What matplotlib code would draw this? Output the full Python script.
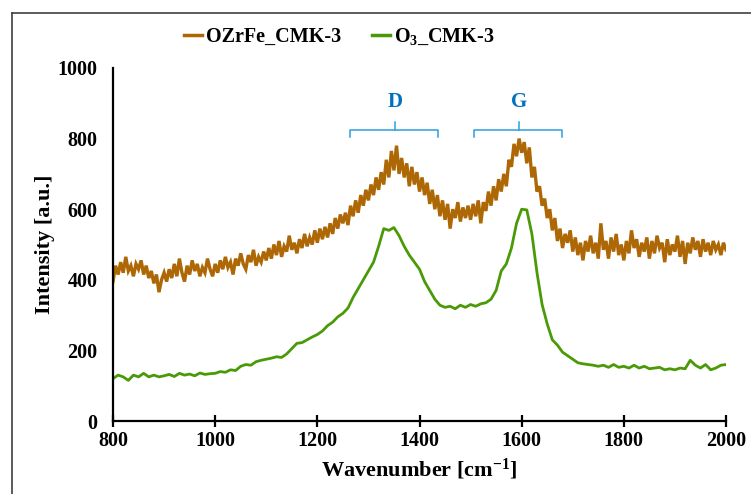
import numpy as np
import matplotlib
matplotlib.use("Agg")
import matplotlib.pyplot as plt
from matplotlib.lines import Line2D

# Raman spectra
# OZrFe_CMK-3: every 5 cm-1 from 800 to 2000
wn_ozrfe = np.arange(800, 2001, 5)
ozrfe = [
    395, 440, 415, 450, 420, 465, 425, 440, 410, 445, 430, 455, 415, 440, 405, 425, 390, 415, 365, 400,
    420, 395, 430, 405, 445, 410, 460, 420, 395, 440, 415, 455, 425, 445, 410, 435, 420, 460, 430, 410,
    445, 420, 455, 430, 465, 435, 450, 415, 460, 440, 475, 445, 430, 470, 450, 485, 440, 465, 450, 480,
    455, 490, 460, 500, 470, 510, 465, 495, 480, 525, 485, 505, 475, 515, 490, 530, 495, 520, 500, 540,
    505, 545, 515, 550, 520, 560, 530, 575, 545, 585, 560, 590, 555, 610, 580, 625, 590, 640, 610, 655,
    625, 670, 640, 690, 655, 705, 670, 740, 690, 765, 710, 780, 700, 745, 690, 730, 665, 720, 670, 705,
    650, 690, 640, 675, 615, 655, 600, 640, 580, 625, 570, 615, 545, 600, 575, 620, 565, 605, 575, 610,
    570, 615, 580, 625, 560, 620, 595, 650, 610, 665, 625, 685, 650, 700, 665, 740, 720, 785, 750, 800,
    760, 790, 730, 775, 690, 720, 650, 665, 610, 630, 575, 600, 540, 575, 510, 545, 490, 530, 505, 540,
    480, 520, 470, 505, 455, 510, 480, 525, 475, 505, 460, 560, 485, 510, 460, 520, 480, 530, 470, 500,
    455, 510, 475, 540, 490, 515, 465, 505, 480, 520, 460, 510, 475, 525, 490, 505, 450, 515, 470, 500,
    480, 525, 465, 510, 445, 505, 475, 520, 485, 510, 465, 515, 480, 505, 470, 510, 485, 500, 470, 505,
    485,
]

# O3_CMK-3: every 10 cm-1 from 800 to 2000
wn_o3 = np.arange(800, 2001, 10)
o3 = [
    120, 130, 125, 115, 130, 125, 135, 125, 130, 125,
    128, 132, 126, 135, 130, 133, 128, 136, 132, 134,
    135, 140, 138, 145, 143, 155, 160, 158, 168, 172,
    175, 178, 182, 180, 190, 205, 220, 222, 230, 238,
    245, 255, 270, 280, 295, 305, 320, 350, 375, 400,
    425, 450, 495, 545, 540, 548, 525, 495, 470, 450,
    430, 395, 370, 345, 328, 322, 325, 318, 328, 322,
    330, 325, 332, 335, 345, 370, 425, 445, 490, 560,
    600, 598, 530, 420, 330, 275, 230, 215, 195, 185,
    175, 165, 162, 160, 158, 155, 158, 152, 160, 152,
    155, 150, 158, 150, 155, 148, 150, 152, 145, 148,
    145, 150, 148, 172, 158, 150, 160, 145, 150, 158,
    160,
]

# band brackets: label, left, centre, right (cm-1)
band_labels = ["D", "G"]
band_left = [1264, 1506]
band_mid = [1352, 1595]
band_right = [1436, 1679]

BROWN = "#AD6705"
GREEN = "#4A9A08"
BRACKET = "#2C9FE0"
LABEL_BLUE = "#0070C0"

plt.rcParams["font.family"] = ["Liberation Serif", "DejaVu Serif"]
plt.rcParams["font.weight"] = "bold"
plt.rcParams["mathtext.fontset"] = "custom"
plt.rcParams["mathtext.rm"] = "Liberation Serif:bold"
plt.rcParams["mathtext.bf"] = "Liberation Serif:bold"
plt.rcParams["mathtext.it"] = "Liberation Serif:bold"

fig = plt.figure(figsize=(7.51, 4.94), dpi=100)
ax = fig.add_axes([113 / 751, 73 / 494, 613 / 751, 353 / 494])

ax.plot(wn_ozrfe, ozrfe, color=BROWN, lw=2.4, solid_joinstyle="miter")
ax.plot(wn_o3, o3, color=GREEN, lw=2.0)

ax.set_xlim(800, 2000)
ax.set_ylim(0, 1000)
ax.set_xticks(range(800, 2001, 200))
ax.set_yticks(range(0, 1001, 200))

for s in ["top", "right"]:
    ax.spines[s].set_visible(False)
for s in ["left", "bottom"]:
    ax.spines[s].set_linewidth(1.6)
ax.tick_params(axis="x", direction="inout", length=9, width=1.6, labelsize=14.5, pad=3)
ax.tick_params(axis="y", length=0, labelsize=14.5, pad=11)

ax.set_xlabel(r"Wavenumber [cm$^{\mathbf{-1}}$]", fontsize=16, fontweight="bold", labelpad=4)
ax.set_ylabel("Intensity [a.u.]", fontsize=16, fontweight="bold", labelpad=2)

# D / G brackets
for lab, l, m, r in zip(band_labels, band_left, band_mid, band_right):
    ax.plot([l, l, r, r], [805, 824, 824, 805], color=BRACKET, lw=1.1, clip_on=False)
    ax.plot([m, m], [824, 847], color=BRACKET, lw=1.1, clip_on=False)
    ax.text(m, 875, lab, color=LABEL_BLUE, fontsize=15, fontweight="bold",
            ha="center", va="bottom")

handles = [Line2D([], [], color=BROWN, lw=2.5), Line2D([], [], color=GREEN, lw=2.5)]
fig.legend(handles, ["OZrFe_CMK-3", r"O$_{\mathbf{3}}$_CMK-3"], loc="center",
           bbox_to_anchor=(0.452, 1 - 37 / 494), ncol=2, frameon=False,
           prop={"size": 14.5, "weight": "bold"}, handlelength=0.9,
           handletextpad=0.2, columnspacing=1.5)

# outer frame (top and left edges visible)
fig.add_artist(Line2D([12 / 751, 1], [1 - 13 / 494, 1 - 13 / 494], color="#404040", lw=1.2))
fig.add_artist(Line2D([12 / 751, 12 / 751], [0, 1 - 13 / 494], color="#404040", lw=1.2))

fig.savefig("out.png", dpi=100)
